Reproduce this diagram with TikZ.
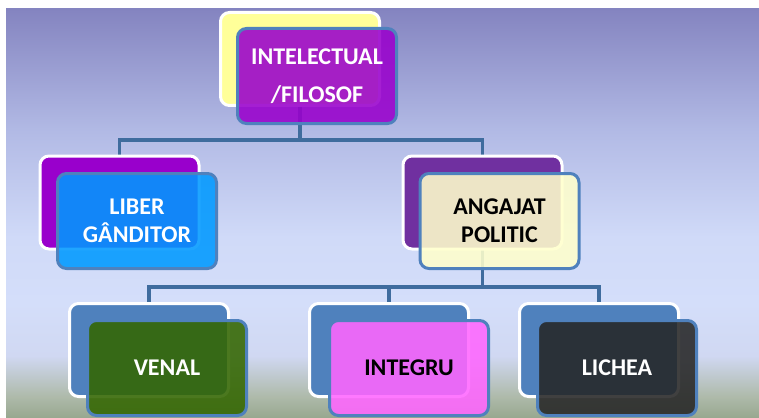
\documentclass[tikz,border=0pt]{standalone}
\usepackage{fontspec}
\setmainfont{Carlito}
\usepackage{tikz}

\definecolor{skytop}{HTML}{8484C0}
\definecolor{skymid}{HTML}{B2BAE5}
\definecolor{skylow}{HTML}{D0DAF8}
\definecolor{skypale}{HTML}{D4DEFA}
\definecolor{skyhaze}{HTML}{D0D8F2}
\definecolor{groundhi}{HTML}{AEBAAA}
\definecolor{groundlo}{HTML}{98A890}
\definecolor{cardedge}{HTML}{4F81BD}
\definecolor{wireblue}{HTML}{3F6C9E}
\definecolor{lemon}{HTML}{FFFF99}
\definecolor{violet}{HTML}{9900CC}
\definecolor{plum}{HTML}{7030A0}
\definecolor{skyblue}{HTML}{0099FF}
\definecolor{cream}{HTML}{FFFFCC}
\definecolor{moss}{HTML}{336600}
\definecolor{orchid}{HTML}{FF66FF}
\definecolor{coal}{HTML}{262626}

\pgfdeclareverticalshading{skyground}{100bp}{color(0bp)=(groundlo); color(25bp)=(groundlo);
  color(27.5bp)=(groundhi); color(32.5bp)=(skyhaze); color(39bp)=(skypale);
  color(47bp)=(skylow); color(60bp)=(skymid); color(75bp)=(skytop); color(100bp)=(skytop)}

\pgfdeclarelayer{sky}
\pgfdeclarelayer{wires}
\pgfsetlayers{sky,wires,main}

\begin{document}
\begin{tikzpicture}[x=1pt,y=-1pt]
    \tikzstyle{card}=[draw=white,line width=3pt,rounded corners=9pt,minimum width=159pt,minimum height=93pt,inner sep=0pt]
    \tikzstyle{face}=[draw=cardedge,line width=3pt,rounded corners=9pt,minimum width=159pt,minimum height=95pt,inner sep=0pt,fill opacity=0.88,text opacity=1,align=center,font=\fontsize{24}{28}\selectfont\bfseries]
    \tikzstyle{wire}=[draw=wireblue,line width=3.5pt]

    \useasboundingbox (0,0) rectangle (759,417);
    \begin{pgfonlayer}{sky}
    \fill[white] (0,0) rectangle (759,417);
    \shade[shading=skyground] (6,9) rectangle (759,417);
    \end{pgfonlayer}

    % top level
    \node[card,fill=lemon] (intback) at (300,59) {};
    \node[face,fill=violet,text=white] (intface) at (317,76) {INTELECTUAL\\[10pt]/FILOSOF};

    % second level
    \node[card,fill=violet] (libback) at (119.5,202.5) {};
    \node[face,fill=skyblue,text=white] (libface) at (137,221) {LIBER\\GÂNDITOR};

    \node[card,fill=plum] (angback) at (482.5,202.5) {};
    \node[face,fill=cream,text=black] (angface) at (499.5,221) {ANGAJAT\\POLITIC};

    % third level
    \node[card,fill=cardedge] (venback) at (149,350) {};
    \node[face,fill=moss,text=white] (venface) at (167,368) {VENAL};

    \node[card,fill=cardedge] (intgback) at (389,350) {};
    \node[face,fill=orchid,text=black] (intgface) at (409,368) {INTEGRU};

    \node[card,fill=cardedge] (lichback) at (599,350) {};
    \node[face,fill=coal,text=white] (lichface) at (617,368) {LICHEA};

    \coordinate (bus1) at (300,140);
    \coordinate (bus2) at (482.5,287);

    \begin{pgfonlayer}{wires}
    \path[wire] (intback.center) -- (bus1);
    \path[wire] (libback.north) |- (bus1) -| (angback.north);
    \path[wire] (angback.center) -- (bus2);
    \path[wire] (venback.north) |- (bus2) -| (lichback.north);
    \path[wire] (intgback.north) -- (intgback.north |- bus2);
    \end{pgfonlayer}
\end{tikzpicture}
\end{document}
